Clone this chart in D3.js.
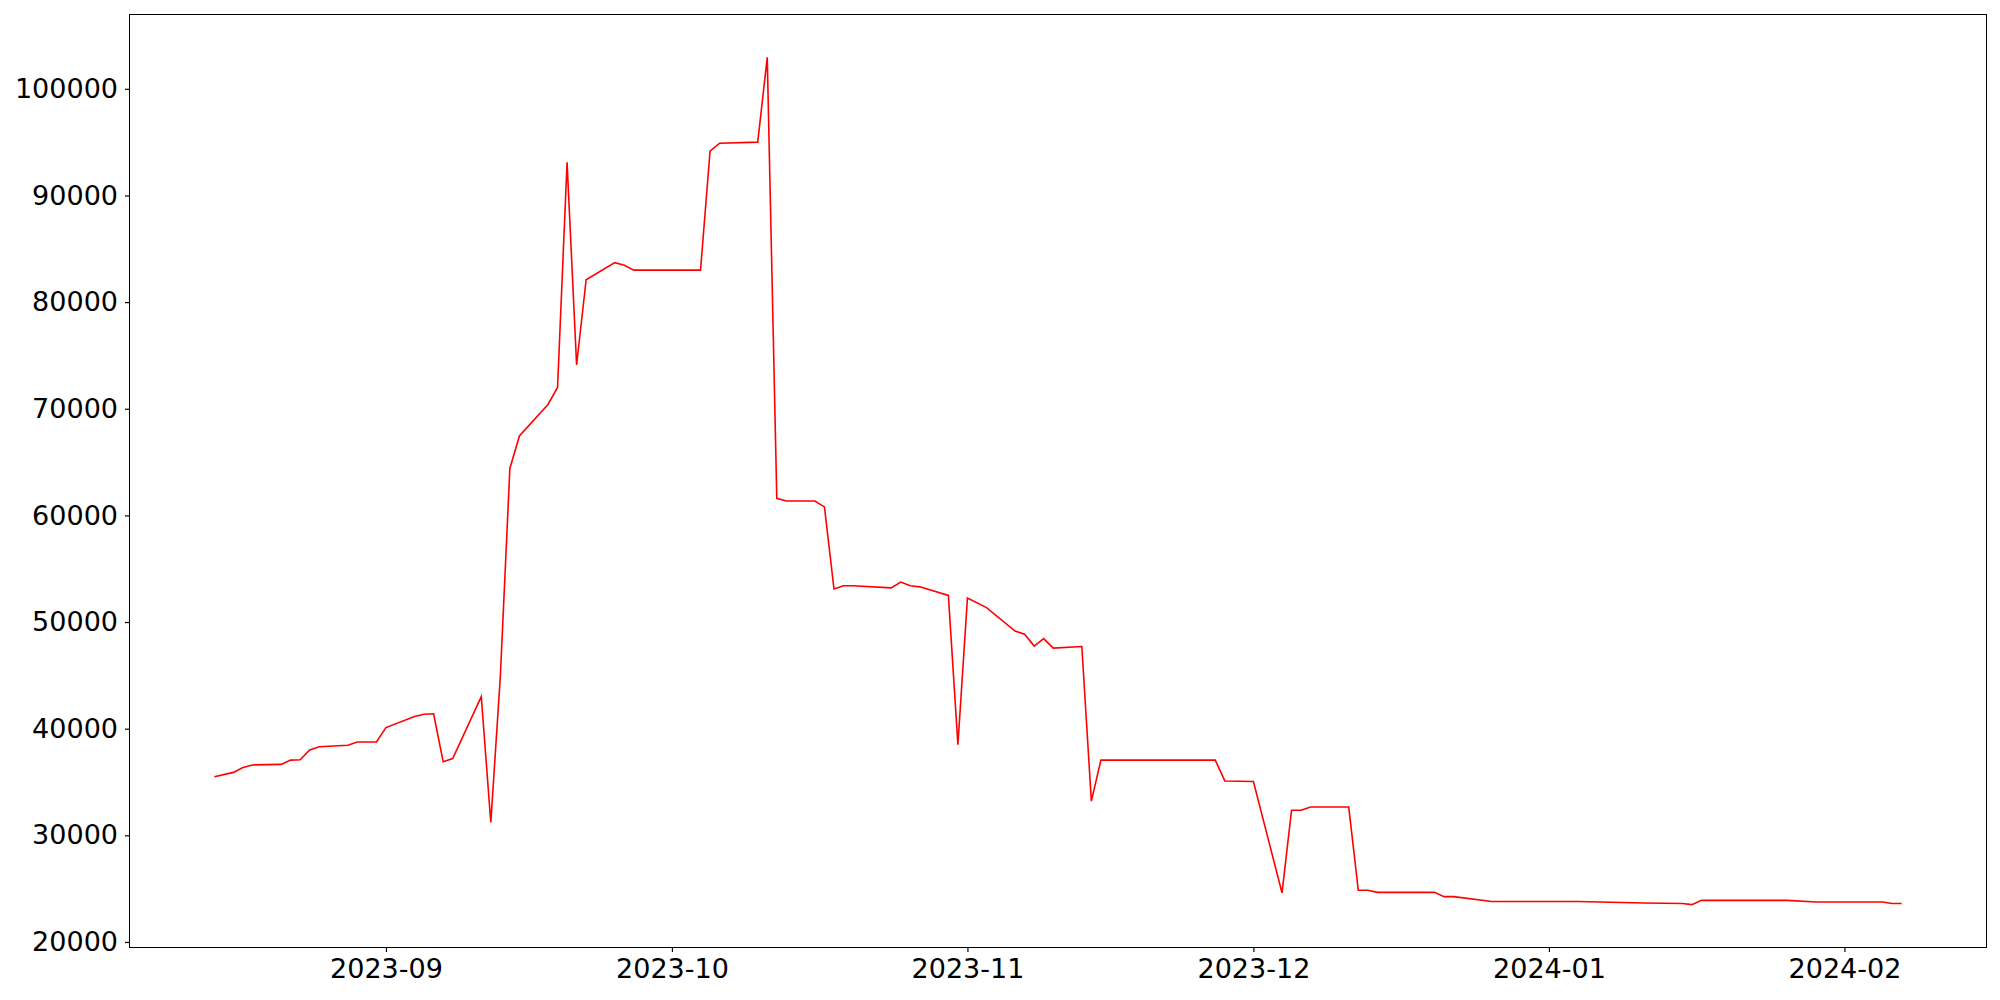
<!DOCTYPE html>
<html>
<head>
<meta charset="utf-8">
<script src="https://cdn.jsdelivr.net/npm/d3@7"></script>
<style>
  html, body { margin: 0; padding: 0; background: #fff; }
  svg { display: block; }
  text { font-family: "DejaVu Sans", sans-serif; }
</style>
</head>
<body>
<svg id="chart" width="2000" height="1000"></svg>
<script>
// ---- data ----
const dates = [
  "2023-08-14","2023-08-16","2023-08-17","2023-08-18","2023-08-21","2023-08-22","2023-08-23","2023-08-24","2023-08-25",
  "2023-08-28","2023-08-29","2023-08-31","2023-09-01","2023-09-04","2023-09-05","2023-09-06","2023-09-07","2023-09-08",
  "2023-09-11","2023-09-12","2023-09-13","2023-09-14","2023-09-15","2023-09-18","2023-09-19","2023-09-20","2023-09-21",
  "2023-09-22","2023-09-25","2023-09-26","2023-09-27","2023-10-04","2023-10-05","2023-10-06","2023-10-10","2023-10-11",
  "2023-10-12","2023-10-13","2023-10-16","2023-10-17","2023-10-18","2023-10-19","2023-10-20","2023-10-24","2023-10-25",
  "2023-10-26","2023-10-27","2023-10-30","2023-10-31","2023-11-01","2023-11-03","2023-11-06","2023-11-07","2023-11-08",
  "2023-11-09","2023-11-10","2023-11-13","2023-11-14","2023-11-15","2023-11-27","2023-11-28","2023-12-01","2023-12-04",
  "2023-12-05","2023-12-06","2023-12-07","2023-12-11","2023-12-12","2023-12-13","2023-12-14","2023-12-20","2023-12-21",
  "2023-12-22","2023-12-26","2024-01-04","2024-01-11","2024-01-15","2024-01-16","2024-01-17","2024-01-26","2024-01-29",
  "2024-02-05","2024-02-06","2024-02-07"
];
const values = [
  35500, 35900, 36350, 36600, 36650, 37050, 37080, 38000, 38300,
  38450, 38750, 38750, 40100, 41150, 41350, 41400, 36900, 37200,
  43000, 31200, 44900, 64400, 67450, 70400, 72000, 93100, 74100,
  82100, 83700, 83450, 83000, 83000, 94150, 94900, 95000, 102950,
  61600, 61350, 61350, 60800, 53100, 53400, 53400, 53200, 53750,
  53400, 53300, 52500, 38500, 52250, 51350, 49150, 48850, 47750,
  48450, 47550, 47700, 33200, 37050, 37050, 35100, 35050, 24600,
  32350, 32350, 32650, 32650, 24850, 24850, 24650, 24650, 24250,
  24250, 23800, 23800, 23650, 23600, 23500, 23900, 23900, 23750,
  23750, 23600, 23600
];
const yTicks = [20000, 30000, 40000, 50000, 60000, 70000, 80000, 90000, 100000];
const xTickLabels = ["2023-09", "2023-10", "2023-11", "2023-12", "2024-01", "2024-02"];

// ---- layout ----
const W = 2000, H = 1000;
const M = { left: 130, top: 15, right: 14, bottom: 53 };
const pw = W - M.left - M.right, ph = H - M.top - M.bottom;

const parse = d3.utcParse("%Y-%m-%d");
const data = dates.map((d, i) => ({ date: parse(d), value: values[i] }));

// matplotlib-style 5% margins
const xExt = d3.extent(data, d => d.date.getTime());
const xPad = (xExt[1] - xExt[0]) * 0.05;
const yExt = d3.extent(data, d => d.value);
const yPad = (yExt[1] - yExt[0]) * 0.05;

const x = d3.scaleUtc().domain([new Date(xExt[0] - xPad), new Date(xExt[1] + xPad)]).range([0, pw]);
const y = d3.scaleLinear().domain([yExt[0] - yPad, yExt[1] + yPad]).range([ph, 0]);

const svg = d3.select("#chart");
svg.append("rect").attr("width", W).attr("height", H).attr("fill", "#fff");
const g = svg.append("g").attr("transform", `translate(${M.left},${M.top})`);

// line
const line = d3.line().x(d => x(d.date)).y(d => y(d.value));
g.append("path").datum(data)
  .attr("fill", "none").attr("stroke", "#ff0000").attr("stroke-width", 1.6)
  .attr("stroke-linejoin", "miter").attr("d", line);

// axes
const xTickDates = xTickLabels.map(s => d3.utcParse("%Y-%m")(s));
const xAxis = d3.axisBottom(x).tickValues(xTickDates).tickFormat(d3.utcFormat("%Y-%m"))
  .tickSize(5).tickPadding(7).tickSizeOuter(0);
const yAxis = d3.axisLeft(y).tickValues(yTicks).tickFormat(d3.format("d"))
  .tickSize(5).tickPadding(7).tickSizeOuter(0);

const gx = g.append("g").attr("transform", `translate(0,${ph})`).call(xAxis);
const gy = g.append("g").call(yAxis);
[gx, gy].forEach(a => {
  a.select(".domain").remove();
  a.selectAll(".tick line").attr("stroke", "#000").attr("stroke-width", 1.2);
  a.selectAll(".tick text").attr("fill", "#000").style("font-size", "27px")
    .style("font-family", "'DejaVu Sans', sans-serif");
});

// frame
g.append("rect").attr("x", -0.5).attr("y", -0.5).attr("width", pw + 1).attr("height", ph + 1)
  .attr("fill", "none").attr("stroke", "#000").attr("stroke-width", 1.3)
  .attr("shape-rendering", "crispEdges");
</script>
</body>
</html>
